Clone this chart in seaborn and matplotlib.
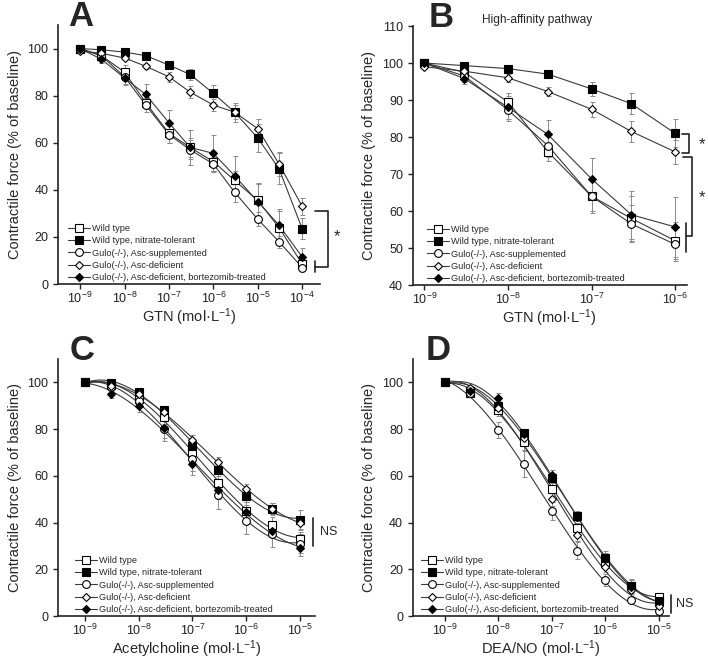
import numpy as np
import pandas as pd
import matplotlib
matplotlib.use('Agg')
import matplotlib.pyplot as plt
import seaborn as sns
from matplotlib.lines import Line2D
from matplotlib.ticker import FuncFormatter, MultipleLocator

# concentrations (mol/L)
gtn_conc_a = [1e-9, 3e-9, 1e-8, 3e-8, 1e-7, 3e-7, 1e-6, 3e-6, 1e-5, 3e-5, 1e-4]
gtn_conc_b = [1e-9, 3e-9, 1e-8, 3e-8, 1e-7, 3e-7, 1e-6]
ach_conc = [1e-9, 3e-9, 1e-8, 3e-8, 1e-7, 3e-7, 1e-6, 3e-6, 1e-5]
dea_conc = [1e-9, 3e-9, 1e-8, 3e-8, 1e-7, 3e-7, 1e-6, 3e-6, 1e-5]

groups = ['Wild type', 'Wild type, nitrate-tolerant', 'Gulo(-/-), Asc-supplemented',
          'Gulo(-/-), Asc-deficient', 'Gulo(-/-), Asc-deficient, bortezomib-treated']

# panel A - GTN
a_wt = [100, 97, 90, 77, 64, 58, 52, 44, 35.5, 24, 8.5]
a_nt = [100, 99.5, 98.5, 97, 93, 89, 81, 73, 62, 49, 23.5]
a_sup = [100, 97, 88, 76, 63.5, 57, 51, 39, 27.5, 18, 7]
a_def = [99, 98, 96, 92.5, 88, 81.5, 76, 73, 66, 51, 33]
a_bor = [100, 95.5, 87.5, 80.5, 68.5, 58, 55.5, 46, 35, 25, 11.5]
a_wt_err = [0.5, 1.5, 3, 2.5, 4, 4, 4, 4, 7.5, 7, 1.5]
a_nt_err = [0.5, 1, 1, 1, 1.5, 2.5, 3.5, 4, 6, 6.5, 4.5]
a_sup_err = [0.5, 1.5, 3, 3, 3.5, 4, 3, 4, 3, 2.5, 1.5]
a_def_err = [0.5, 1, 1, 1, 2, 2.5, 2.5, 3, 4, 5, 3.5]
a_bor_err = [0.5, 1.5, 3, 4.5, 5.5, 7.5, 8, 8.5, 7.5, 7, 4]

# panel B - GTN high-affinity
b_wt = [100, 97.5, 89.5, 76, 64, 58, 52]
b_nt = [100, 99.3, 98.5, 97, 93, 89, 81]
b_sup = [100, 96.5, 87.3, 77.7, 64, 56.5, 51]
b_def = [99, 97.8, 96, 92.3, 87.5, 81.5, 76]
b_bor = [100, 95.8, 88, 80.7, 68.7, 59, 55.7]
b_wt_err = [0.5, 1.5, 2.5, 2.5, 4.5, 6, 5]
b_nt_err = [0.5, 0.5, 0.8, 1, 1.8, 2.8, 3.8]
b_sup_err = [0.5, 1.5, 3, 3, 4, 5, 4.5]
b_def_err = [0.5, 1, 1, 1.3, 2, 2.8, 3.2]
b_bor_err = [0.5, 1.5, 3, 4, 5.5, 6.5, 8]

# panel C - acetylcholine
c_wt = [100, 99, 93, 85, 70, 57, 45, 39, 33]
c_nt = [100, 99.7, 95.7, 88, 72.7, 62.5, 51.5, 45.8, 41.3]
c_sup = [100, 98, 92, 80, 67, 52, 40.5, 35, 31]
c_def = [100, 98.5, 95, 87.5, 75.5, 66, 54.5, 46, 40]
c_bor = [100, 95, 90, 80.3, 65, 54, 44.5, 36.5, 29]
c_wt_err = [0.5, 1, 2, 3, 4, 4, 4, 3.5, 3]
c_nt_err = [0.5, 1, 1.5, 1.5, 2.5, 2.5, 2.5, 2.5, 4]
c_sup_err = [0.5, 1.5, 2.5, 5, 5, 6, 5.5, 5.5, 4]
c_def_err = [0.5, 1, 1.5, 2, 2, 2, 2, 2.5, 3]
c_bor_err = [0.5, 1.5, 2.5, 4, 4.5, 4, 3, 3, 3.5]

# panel D - DEA/NO
d_wt = [100, 95.5, 88, 74.5, 54.5, 37.5, 23, 13, 8]
d_nt = [100, 96.5, 90, 78.5, 59, 43, 25, 13, 6.5]
d_sup = [100, 95.5, 79.5, 65, 45, 28, 15.5, 7, 2]
d_def = [100, 97.5, 89, 76, 50, 34.5, 21, 11, 4.5]
d_bor = [100, 96.5, 93.5, 78, 60.5, 42.5, 24.5, 12.5, 6.5]
d_wt_err = [0.5, 1, 2.5, 3.5, 3, 2.5, 2.5, 2.5, 2]
d_nt_err = [0.5, 1, 2, 1.5, 2, 2, 3, 3, 2]
d_sup_err = [0.5, 1.5, 3.5, 5.5, 4, 3.5, 2.5, 1, 0.5]
d_def_err = [0.5, 1, 2, 3, 3, 2.5, 2, 1.5, 1]
d_bor_err = [0.5, 1, 2, 2, 2, 2, 2.5, 2, 1.5]

sns.set_style('ticks')
plt.rcParams['font.family'] = ['Liberation Sans', 'DejaVu Sans']
plt.rcParams['mathtext.fontset'] = 'custom'
plt.rcParams['mathtext.rm'] = 'Liberation Sans'
plt.rcParams['mathtext.it'] = 'Liberation Sans:italic'
plt.rcParams['mathtext.bf'] = 'Liberation Sans:bold'

LINE = '#3a3a3a'
ERR = '#8a8a8a'
# marker, face colour, size
styles = [('s', 'white', 5.2), ('s', 'black', 5.2), ('o', 'white', 5.6),
          ('D', 'white', 3.8), ('D', 'black', 3.8)]


def make_df(conc, series):
    rows = []
    for g, (vals, errs) in zip(groups, series):
        for c, v, e in zip(conc, vals, errs):
            rows.append({'group': g, 'logc': np.log10(c), 'force': v, 'err': e})
    return pd.DataFrame(rows)


def style_axes(ax, xlim, ylim, xlabel):
    ax.set_xlim(*xlim)
    ax.set_ylim(*ylim)
    ax.xaxis.set_major_locator(MultipleLocator(1))
    ax.yaxis.set_major_locator(MultipleLocator(20 if ylim[0] == 0 else 10))
    ax.xaxis.set_major_formatter(FuncFormatter(lambda v, p: '$10^{%d}$' % round(v)))
    ax.tick_params(labelsize=9, length=3.5, width=1.0, direction='out', colors='#222222')
    ax.tick_params(axis='x', pad=1.5)
    for s in ['left', 'bottom']:
        ax.spines[s].set_linewidth(1.2)
        ax.spines[s].set_color('#222222')
    sns.despine(ax=ax)
    ax.set_xlabel(xlabel, fontsize=10.5, labelpad=0.5)
    ax.set_ylabel('Contractile force (% of baseline)', fontsize=10.5, labelpad=4)


def draw_points(ax, df, connect):
    for i, g in enumerate(groups):
        sub = df[df['group'] == g]
        ax.errorbar(sub['logc'], sub['force'], yerr=sub['err'], fmt='none',
                    ecolor=ERR, elinewidth=0.7, capsize=1.8, capthick=0.7, zorder=2)
        if connect:
            sns.lineplot(data=sub, x='logc', y='force', ax=ax, color=LINE, lw=0.8,
                         sort=True, estimator=None, zorder=3, legend=False)
        else:
            sns.regplot(data=sub, x='logc', y='force', ax=ax, order=3, ci=None,
                        scatter=False, truncate=True,
                        line_kws={'color': LINE, 'lw': 0.8, 'zorder': 3})
    for i, g in enumerate(groups):
        sub = df[df['group'] == g]
        m, fc, ms = styles[i]
        ax.plot(sub['logc'], sub['force'], ls='none', marker=m, ms=ms, mfc=fc,
                mec='black', mew=0.8, zorder=4 + i)


def add_legend(ax, anchor):
    handles = []
    for m, fc, ms in styles:
        handles.append(Line2D([], [], color=LINE, lw=0.8, marker=m, ms=ms, mfc=fc,
                              mec='black', mew=0.8))
    ax.legend(handles, groups, loc='lower left', bbox_to_anchor=anchor, frameon=False,
              fontsize=6.6, handlelength=2.4, handletextpad=0.2, labelspacing=0.36,
              borderaxespad=0.0, borderpad=0.2)


fig = plt.figure(figsize=(7.08, 6.59), dpi=100)
ax_a = fig.add_axes([0.0819, 0.569, 0.370, 0.393])
ax_b = fig.add_axes([0.583, 0.5675, 0.387, 0.393])
ax_c = fig.add_axes([0.0819, 0.0652, 0.363, 0.390])
ax_d = fig.add_axes([0.583, 0.0652, 0.3616, 0.390])

df_a = make_df(gtn_conc_a, [(a_wt, a_wt_err), (a_nt, a_nt_err), (a_sup, a_sup_err),
                            (a_def, a_def_err), (a_bor, a_bor_err)])
df_b = make_df(gtn_conc_b, [(b_wt, b_wt_err), (b_nt, b_nt_err), (b_sup, b_sup_err),
                            (b_def, b_def_err), (b_bor, b_bor_err)])
df_c = make_df(ach_conc, [(c_wt, c_wt_err), (c_nt, c_nt_err), (c_sup, c_sup_err),
                          (c_def, c_def_err), (c_bor, c_bor_err)])
df_d = make_df(dea_conc, [(d_wt, d_wt_err), (d_nt, d_nt_err), (d_sup, d_sup_err),
                          (d_def, d_def_err), (d_bor, d_bor_err)])

draw_points(ax_a, df_a, True)
draw_points(ax_b, df_b, True)
draw_points(ax_c, df_c, False)
draw_points(ax_d, df_d, False)

style_axes(ax_a, (-9.5, -3.6), (0, 110), 'GTN (mol·L$^{-1}$)')
style_axes(ax_b, (-9.14, -5.86), (40, 110), 'GTN (mol·L$^{-1}$)')
style_axes(ax_c, (-9.5, -4.72), (0, 110), 'Acetylcholine (mol·L$^{-1}$)')
style_axes(ax_d, (-9.6, -4.81), (0, 110), 'DEA/NO (mol·L$^{-1}$)')

add_legend(ax_a, (0.03, 0.0))
add_legend(ax_b, (0.045, 0.0))
add_legend(ax_c, (0.06, 0.0))
add_legend(ax_d, (0.025, 0.0))

# panel letters
for ax, lab, xx in [(ax_a, 'A', 0.04), (ax_b, 'B', 0.058), (ax_c, 'C', 0.047), (ax_d, 'D', 0.05)]:
    ax.text(xx, 0.995, lab, transform=ax.transAxes, fontsize=25, fontweight='bold',
            va='baseline', ha='left')
ax_b.text(0.252, 1.012, 'High-affinity pathway', transform=ax_b.transAxes, fontsize=8.6,
          va='baseline', ha='left')

# significance brackets (x in axes fraction, y in data)
bk = dict(color='#222222', lw=1.2, clip_on=False)
tr = ax_a.get_yaxis_transform()
ax_a.plot([0.981, 1.031, 1.031, 0.981], [31.2, 31.2, 7.3, 7.3], transform=tr, **bk)
ax_a.plot([0.981, 0.981], [9.6, 5.0], transform=tr, **bk)
ax_a.text(1.065, 20, '*', transform=tr, fontsize=12, ha='center', va='center')

tr = ax_b.get_yaxis_transform()
ax_b.plot([0.982, 1.007, 1.007, 0.982], [80.8, 80.8, 75.7, 75.7], transform=tr, **bk)
ax_b.text(1.055, 78.0, '*', transform=tr, fontsize=12, ha='center', va='center')
ax_b.plot([0.985, 1.018, 1.018, 0.996], [74.6, 74.6, 53.2, 53.2], transform=tr, **bk)
ax_b.plot([0.996, 0.996], [56.7, 48.9], transform=tr, **bk)
ax_b.text(1.055, 63.5, '*', transform=tr, fontsize=12, ha='center', va='center')

tr = ax_c.get_yaxis_transform()
ax_c.plot([0.992, 0.992], [42, 30], transform=tr, **bk)
ax_c.text(1.02, 36, 'NS', transform=tr, fontsize=9, ha='left', va='center')

tr = ax_d.get_yaxis_transform()
ax_d.plot([1.008, 1.008], [9, 1.3], transform=tr, **bk)
ax_d.text(1.028, 5.3, 'NS', transform=tr, fontsize=9, ha='left', va='center')

fig.savefig('out.png', dpi=100)
